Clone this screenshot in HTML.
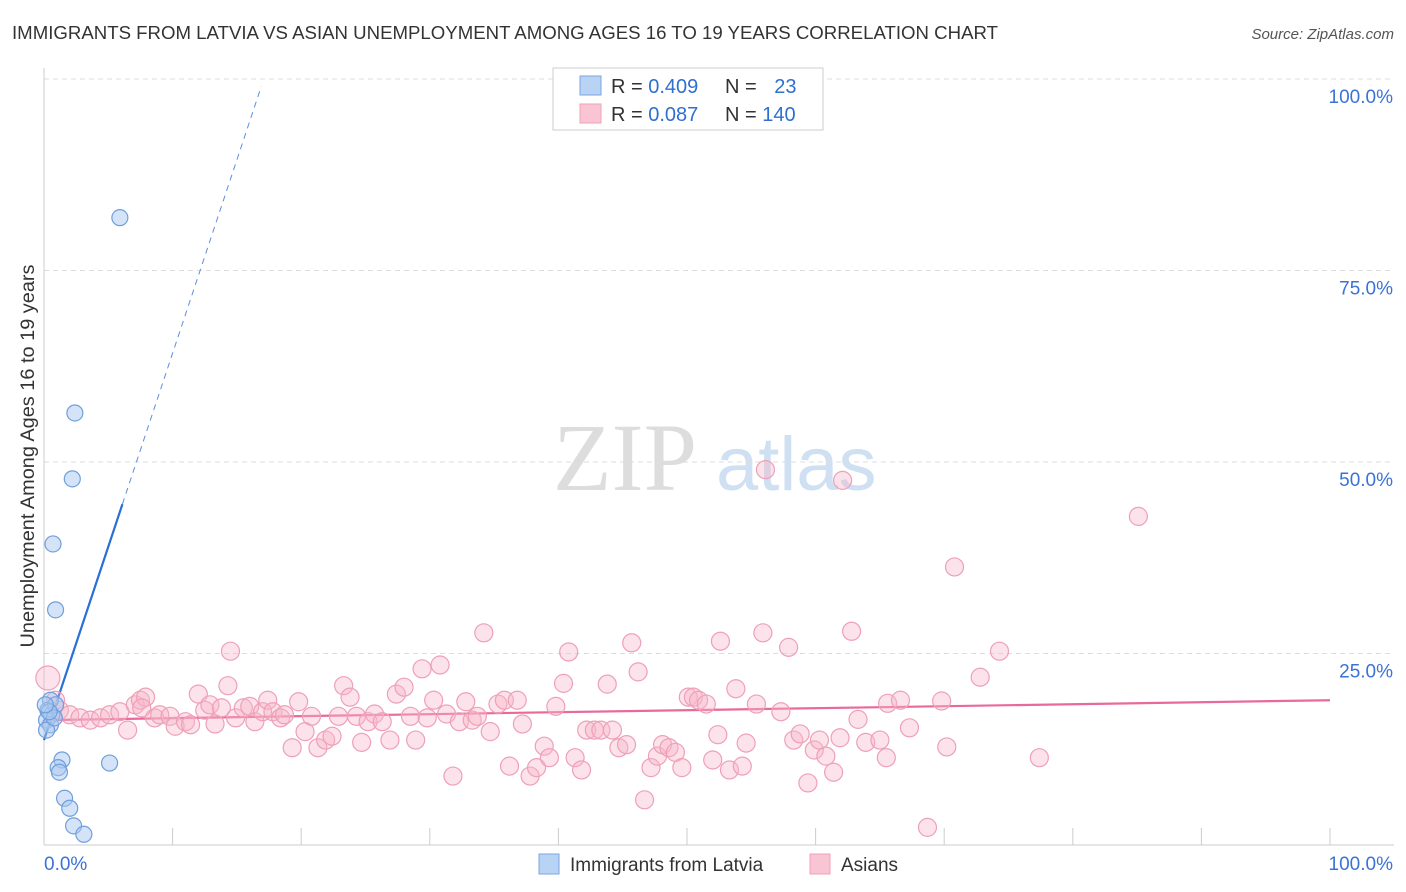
<!DOCTYPE html>
<html><head><meta charset="utf-8">
<style>
body{margin:0;background:#fff;font-family:"Liberation Sans",sans-serif;}
#wrap{position:relative;width:1406px;height:892px;overflow:hidden;}
</style></head>
<body>
<div id="wrap">
<svg id="svg" width="1406" height="892" xmlns="http://www.w3.org/2000/svg">
<text x="12" y="39" font-size="18" fill="#333" textLength="986" lengthAdjust="spacingAndGlyphs">IMMIGRANTS FROM LATVIA VS ASIAN UNEMPLOYMENT AMONG AGES 16 TO 19 YEARS CORRELATION CHART</text>
<text x="1394" y="39" font-size="15" fill="#555" font-style="italic" text-anchor="end">Source: ZipAtlas.com</text>
<text x="34" y="456" font-size="19" fill="#333" text-anchor="middle" textLength="383" lengthAdjust="spacingAndGlyphs" transform="rotate(-90 34 456)">Unemployment Among Ages 16 to 19 years</text>
<g>
<text x="553" y="490" font-size="96" font-family="Liberation Serif,serif" fill="#ddd">ZIP</text>
<text x="716" y="490" font-size="76" fill="#cfe0f3">atlas</text>
</g>
<g id="grid"></g><g id="axes"></g><g id="lines"></g><g id="pts"></g>
<g>
<rect x="553" y="68" width="270" height="62" fill="#fff" stroke="#ccc"/>
<rect x="580" y="76" width="21" height="19" fill="#b9d3f5" stroke="#7aa6e0"/>
<text x="611" y="93" font-size="20" fill="#333">R = <tspan fill="#2f6fd0">0.409</tspan></text>
<text x="725" y="93" font-size="20" fill="#333">N = <tspan fill="#2f6fd0" dx="12">23</tspan></text>
<rect x="580" y="104" width="21" height="19" fill="#f9c4d3" stroke="#eea3ba"/>
<text x="611" y="121" font-size="20" fill="#333">R = <tspan fill="#2f6fd0">0.087</tspan></text>
<text x="725" y="121" font-size="20" fill="#333">N = <tspan fill="#2f6fd0">140</tspan></text>
</g>
<g>
<rect x="539" y="854" width="20" height="20" fill="#b9d3f5" stroke="#7aa6e0"/>
<text x="570" y="871" font-size="19" fill="#333">Immigrants from Latvia</text>
<rect x="810" y="854" width="20" height="20" fill="#f9c4d3" stroke="#eea3ba"/>
<text x="841" y="871" font-size="19" fill="#333">Asians</text>
</g>
</svg>
</div>
<script>
const yTicks=[25,50,75,100];
const yTickLabels=["25.0%","50.0%","75.0%","100.0%"];
const xTicks=[0,10,20,30,40,50,60,70,80,90,100];
const blueX=[5.9,2.4,2.2,0.7,0.9,0.5,0.3,0.6,0.2,0.9,0.5,0.2,1.4,1.1,1.2,5.1,1.6,2.0,2.3,3.1,0.8,0.4,0.1];
const blueY=[81.9,56.4,47.8,39.3,30.7,18.9,17.6,17.0,16.3,18.3,15.7,15.0,11.1,10.1,9.5,10.7,6.1,4.8,2.5,1.4,16.6,17.4,18.3];
const pinkX=[0.3,0.9,1.2,2.0,2.8,3.6,4.4,5.1,5.9,6.5,7.1,7.5,7.9,8.6,9.0,9.8,10.2,11.0,11.4,12.0,12.5,12.9,13.3,13.8,14.5,14.9,15.5,16.0,16.4,17.0,17.4,17.8,18.4,18.7,19.3,19.8,20.3,20.8,21.3,21.9,22.4,22.9,23.3,23.8,24.3,24.7,25.2,25.7,26.3,26.9,27.4,28.0,28.5,28.9,29.4,29.8,30.3,30.8,31.3,31.8,32.3,32.8,33.3,33.7,34.2,34.7,35.3,35.8,36.2,36.8,37.2,37.8,38.3,38.9,39.3,39.8,40.4,40.8,41.3,41.8,42.2,42.8,43.3,43.8,44.2,44.7,45.3,45.7,46.2,46.7,47.2,47.7,48.1,48.6,49.1,49.6,50.1,50.5,50.9,51.5,52.0,52.4,52.6,53.3,53.8,54.3,54.6,55.4,55.9,56.1,57.3,57.9,58.3,58.8,59.4,59.9,60.3,60.8,61.4,61.9,62.1,62.8,63.3,63.9,65.0,65.5,65.6,66.6,67.3,68.7,69.8,70.2,70.8,72.8,74.3,77.4,85.1,14.3,7.6];
const pinkY=[21.8,18.9,17.6,17.0,16.6,16.3,16.6,17.0,17.4,15.0,18.3,18.9,19.3,16.6,17.0,16.8,15.5,16.1,15.7,19.7,17.6,18.3,15.8,17.9,25.3,16.6,17.9,18.1,16.1,17.4,18.9,17.4,16.6,17.0,12.7,18.7,14.8,16.8,12.7,13.7,14.2,16.8,20.8,19.3,16.8,13.4,16.1,17.1,16.1,13.7,19.7,20.6,16.8,13.7,23.0,16.6,18.9,23.5,17.1,9.0,16.1,18.7,16.3,16.8,27.7,14.8,18.4,18.9,10.3,18.9,15.8,9.0,10.1,12.9,11.4,18.1,21.1,25.2,11.4,9.8,15.0,15.0,15.0,21.0,15.0,12.7,13.1,26.4,22.6,5.9,10.1,11.6,13.1,12.7,12.1,10.1,19.3,19.3,18.9,18.4,11.1,14.4,26.6,9.8,20.4,10.3,13.3,18.4,27.7,49.0,17.4,25.8,13.7,14.5,8.1,12.4,13.7,11.6,9.5,14.0,47.6,27.9,16.4,13.4,13.7,11.4,18.5,18.9,15.3,2.3,18.8,12.8,36.3,21.9,25.3,11.4,42.9,20.8,17.9];
const blueFit=[13.7,5.05]; // intercept, slope
const pinkFit=[16.3,0.026];
const blueSolidEnd=6.1, blueDashEnd=16.9;

const NS="http://www.w3.org/2000/svg";
const X0=44,X1=1330,Y0=845,Y1=79;
const sx=v=>X0+(X1-X0)*v/100;
const sy=v=>Y0-(Y0-Y1)*v/100;
function mk(tag,attrs,parent){const e=document.createElementNS(NS,tag);for(const k in attrs)e.setAttribute(k,attrs[k]);document.getElementById(parent).appendChild(e);return e;}

yTicks.forEach((t,i)=>{
  const g=mk('line',{x1:X0,x2:1394,y1:sy(t),y2:sy(t),stroke:'#ddd','stroke-dasharray':'5,4'},'grid');
  
  
  const l=mk('text',{x:1393,y:sy(t)+24,'font-size':19,fill:'#3b72d6','text-anchor':'end'},'grid');
  l.textContent=yTickLabels[i];
  
  
});
const ax=mk('line',{x1:X0,x2:X0,y1:68,y2:Y0,stroke:'#ccc'},'axes');


const bx=mk('line',{x1:X0,x2:1394,y1:Y0,y2:Y0,stroke:'#ccc'},'axes');


xTicks.forEach(t=>{
  const tk=mk('line',{x1:sx(t),x2:sx(t),y1:828,y2:Y0,stroke:'#ccc'},'axes');
  
  
});
const xl0=mk('text',{x:44,y:870,'font-size':19,fill:'#3b72d6'},'axes');xl0.textContent='0.0%';


const xl1=mk('text',{x:1393,y:870,'font-size':19,fill:'#3b72d6','text-anchor':'end'},'axes');xl1.textContent='100.0%';



pinkX.forEach((x,i)=>{
  const c=mk('circle',{cx:sx(x),cy:sy(pinkY[i]),r:i===0?12:9,fill:'rgba(248,182,202,0.4)',stroke:'#eea0b8','stroke-width':1.2},'pts');
  
  
});
blueX.forEach((x,i)=>{
  const c=mk('circle',{cx:sx(x),cy:sy(blueY[i]),r:8,fill:'rgba(170,200,240,0.5)',stroke:'#6f9fdc','stroke-width':1.2},'pts');
  
  
});
const pl=mk('line',{x1:sx(0),y1:sy(pinkFit[0]),x2:sx(100),y2:sy(pinkFit[0]+pinkFit[1]*100),stroke:'#e8699a','stroke-width':2.2},'lines');


const bl=mk('line',{x1:sx(0),y1:sy(blueFit[0]),x2:sx(blueSolidEnd),y2:sy(blueFit[0]+blueFit[1]*blueSolidEnd),stroke:'#2a6fd6','stroke-width':2.2},'lines');


const bd=mk('line',{x1:sx(blueSolidEnd),y1:sy(blueFit[0]+blueFit[1]*blueSolidEnd),x2:sx(blueDashEnd),y2:sy(blueFit[0]+blueFit[1]*blueDashEnd),stroke:'#5b8fdc','stroke-width':1,'stroke-dasharray':'6,5'},'lines');


</script>
</body></html>
